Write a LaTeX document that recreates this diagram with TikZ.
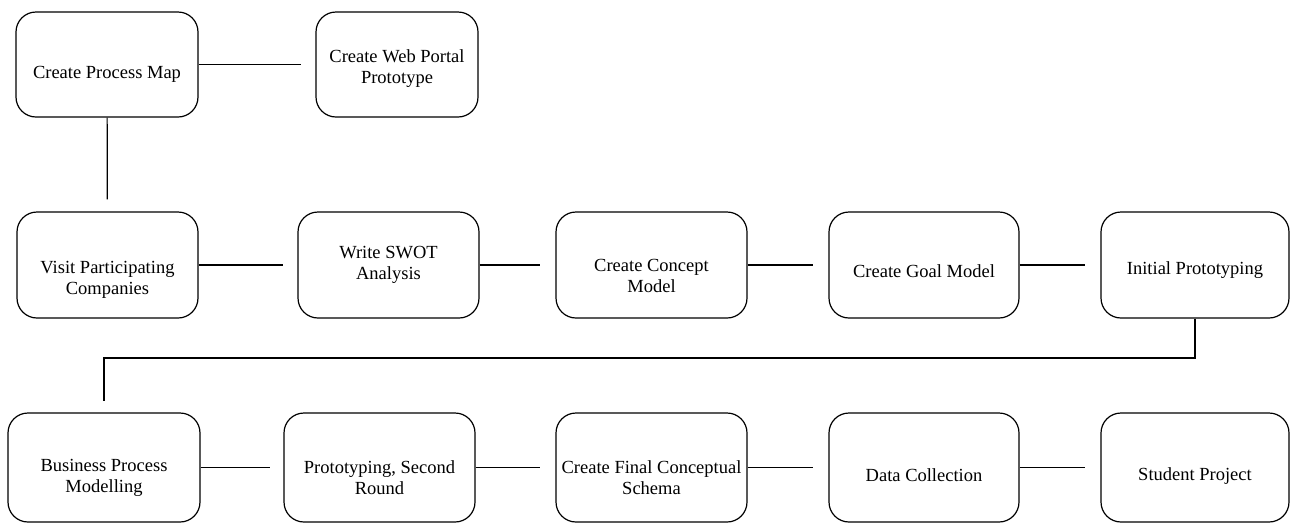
\documentclass[tikz,border=0pt]{standalone}
\usepackage{fontspec}
\setmainfont{Liberation Serif}
\usepackage{tikz}

\begin{document}
\begin{tikzpicture}[x=1pt,y=-1pt,
    every node/.style={font=\fontsize{18.5}{21}\selectfont},
    task/.style={draw, line width=1.2pt, rounded corners=20pt, align=center, inner sep=0pt},
    drop/.style={text height=#1},
    link/.style={line width=1.2pt}]
    \useasboundingbox (0,0) rectangle (1290,523);
    % top row
    \node [task, minimum width=182pt, minimum height=105pt, drop=32pt] (cpm) at (107,64.5) {Create Process Map};
    \node [task, minimum width=162pt, minimum height=105pt, drop=41.7pt] (cwp) at (397,64.5) {Create Web Portal\\Prototype};
    % middle row
    \node [task, minimum width=181pt, minimum height=106pt, drop=63.7pt] (vpc) at (107.5,265) {Visit Participating\\Companies};
    \node [task, minimum width=181pt, minimum height=106pt] (swot) at (388.5,265) {Write SWOT\\Analysis};
    \node [task, minimum width=191pt, minimum height=106pt, drop=55.7pt] (ccm) at (651.5,265) {Create Concept\\Model};
    \node [task, minimum width=190pt, minimum height=106pt, drop=24.7pt] (cgm) at (924,265) {Create Goal Model};
    \node [task, minimum width=188pt, minimum height=106pt, drop=22.7pt] (ip) at (1195,265) {Initial Prototyping};
    % bottom row
    \node [task, minimum width=192pt, minimum height=109pt, drop=53.7pt] (bpm) at (104,467.5) {Business Process\\Modelling};
    \node [task, minimum width=191pt, minimum height=109pt, drop=53.7pt] (psr) at (379.5,467.5) {Prototyping, Second\\Round};
    \node [task, minimum width=191pt, minimum height=109pt, drop=53.7pt] (fcs) at (651.5,467.5) {Create Final Conceptual\\Schema};
    \node [task, minimum width=190pt, minimum height=109pt, drop=28.7pt] (dc) at (924,467.5) {Data Collection};
    \node [task, minimum width=188pt, minimum height=109pt, drop=30pt] (sp) at (1195,467.5) {Student Project};
    \coordinate (turn) at (0,358);
    % connectors
    \draw [link, shorten >=14pt] (cpm) -- (cwp);
    \draw [link, shorten >=12pt] (cpm) -- (vpc);
    \draw [link, shorten >=14pt] (vpc) -- (swot);
    \draw [link, shorten >=15pt] (swot) -- (ccm);
    \draw [link, shorten >=15pt] (ccm) -- (cgm);
    \draw [link, shorten >=15pt] (cgm) -- (ip);
    \draw [link, shorten >=11pt] (ip.south) |- (turn -| bpm.north) -- (bpm.north);
    \draw [link, shorten >=13pt] (bpm) -- (psr);
    \draw [link, shorten >=15pt] (psr) -- (fcs);
    \draw [link, shorten >=15pt] (fcs) -- (dc);
    \draw [link, shorten >=15pt] (dc) -- (sp);
\end{tikzpicture}
\end{document}
